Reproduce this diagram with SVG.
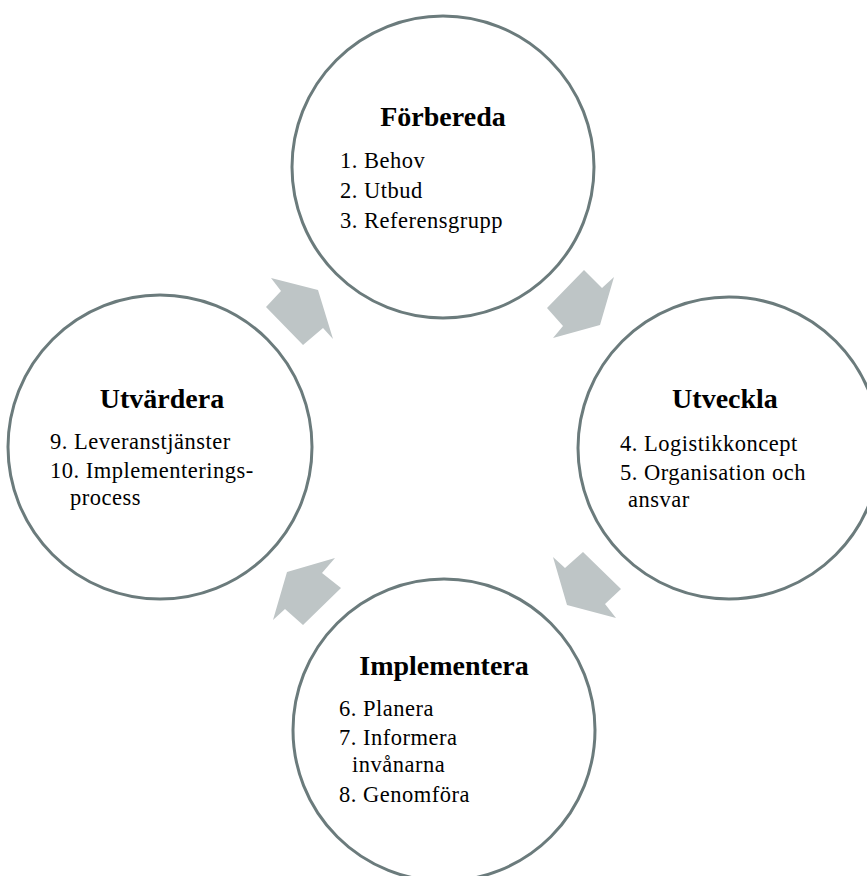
<svg xmlns="http://www.w3.org/2000/svg" width="867" height="876" viewBox="0 0 867 876">
<style>
.c{fill:#fff;stroke:#6b7b7c;stroke-width:3}
.a{fill:#bec5c6;stroke:none}
.t{font-family:"Liberation Serif",serif;font-weight:bold;font-size:28px;fill:#000;text-anchor:middle}
.i{font-family:"Liberation Serif",serif;font-size:22.5px;letter-spacing:0.5px;fill:#000}
</style>
<rect width="867" height="876" fill="#fff"/>
<g id="connectors">
<polygon class="a" points="271,278 318,290 333,339 323,328 303,345 266,307 281,291"/>
<polygon class="a" points="584,270 602,288 614,277 600,325 553,338 563,326 547,308"/>
<polygon class="a" points="553,557 565,568 583,552 621,589 605,604 616,618 567,605"/>
<polygon class="a" points="335,558 322,573 341,588 303,625 285,609 273,620 287,572"/>
</g>
<g id="forbereda">
<circle class="c" cx="443" cy="167" r="151"/>
<text class="t" x="443" y="126">Förbereda</text>
<text class="i" x="340" y="168">1. Behov</text>
<text class="i" x="340" y="198">2. Utbud</text>
<text class="i" x="340" y="228">3. Referensgrupp</text>
</g>
<g id="utveckla">
<circle class="c" cx="729" cy="448" r="151"/>
<text class="t" x="725" y="408">Utveckla</text>
<text class="i" x="620" y="451">4. Logistikkoncept</text>
<text class="i" x="620" y="480">5. Organisation och</text>
<text class="i" x="628" y="507">ansvar</text>
</g>
<g id="implementera">
<circle class="c" cx="444" cy="730" r="151"/>
<text class="t" x="444" y="675">Implementera</text>
<text class="i" x="339" y="716">6. Planera</text>
<text class="i" x="339" y="745">7. Informera</text>
<text class="i" x="352" y="772">invånarna</text>
<text class="i" x="339" y="802">8. Genomföra</text>
</g>
<g id="utvardera">
<circle class="c" cx="160" cy="447" r="152"/>
<text class="t" x="162" y="408">Utvärdera</text>
<text class="i" x="50" y="449">9. Leveranstjänster</text>
<text class="i" x="50" y="478">10. Implementerings-</text>
<text class="i" x="70" y="505">process</text>
</g>
</svg>
